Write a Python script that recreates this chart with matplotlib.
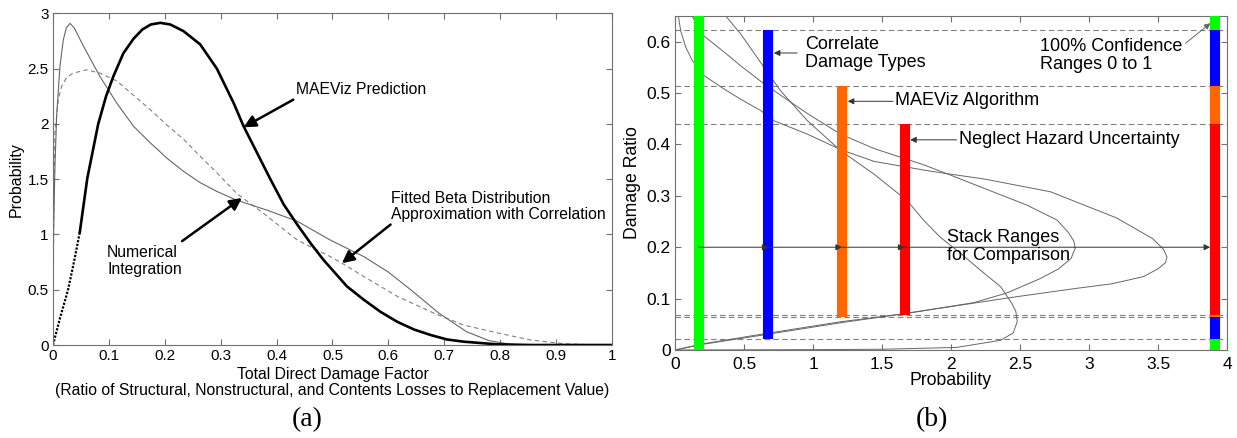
import numpy as np
import matplotlib
matplotlib.use('Agg')
import matplotlib.pyplot as plt

plt.rcParams['font.family'] = ['Liberation Sans', 'DejaVu Sans']

# ---- (a) pdfs of total direct damage factor ----
maeviz_x = [0, 0.013, 0.027, 0.038, 0.048, 0.0615, 0.081, 0.095, 0.108, 0.126, 0.144, 0.16,
            0.175, 0.192, 0.21, 0.2336, 0.2634, 0.2933, 0.3232, 0.341, 0.365, 0.389, 0.413,
            0.437, 0.461, 0.484, 0.526, 0.556, 0.586, 0.616, 0.646, 0.676, 0.705, 0.735,
            0.795, 0.855, 1.0]
maeviz_y = [0, 0.25, 0.5, 0.76, 1.02, 1.51, 2.0, 2.25, 2.43, 2.64, 2.77, 2.855,
            2.9, 2.915, 2.9, 2.84, 2.72, 2.50, 2.19, 1.98, 1.74, 1.50, 1.27,
            1.09, 0.92, 0.77, 0.53, 0.41, 0.30, 0.21, 0.14, 0.09, 0.05, 0.03,
            0.006, 0.0, 0.0]
n_rise = 4  # first points of the MAEViz curve look dotted in the original

numint_x = [0, 0.001, 0.0036, 0.0066, 0.0125, 0.0185, 0.024, 0.0305, 0.038, 0.054, 0.084,
            0.114, 0.144, 0.174, 0.204, 0.234, 0.263, 0.293, 0.329, 0.383, 0.437, 0.496,
            0.556, 0.6, 0.64, 0.69, 0.74, 0.78, 0.82, 0.85, 1.0]
numint_y = [0, 1.0, 1.62, 2.07, 2.52, 2.76, 2.87, 2.91, 2.87, 2.71, 2.43,
            2.19, 1.98, 1.83, 1.69, 1.57, 1.47, 1.39, 1.31, 1.22, 1.12, 0.95,
            0.80, 0.66, 0.5, 0.29, 0.12, 0.04, 0.005, 0.0, 0.0]

beta_x = [0, 0.0015, 0.0036, 0.0095, 0.0155, 0.0245, 0.036, 0.06, 0.084, 0.114, 0.144,
          0.174, 0.204, 0.234, 0.263, 0.293, 0.329, 0.377, 0.437, 0.496, 0.517, 0.556,
          0.616, 0.682, 0.735, 0.795, 0.855, 0.914, 0.97, 1.0]
beta_y = [0, 1.2, 1.92, 2.22, 2.34, 2.42, 2.46, 2.49, 2.46, 2.39, 2.26,
          2.13, 1.99, 1.86, 1.71, 1.56, 1.37, 1.19, 0.95, 0.80, 0.74, 0.62,
          0.44, 0.287, 0.18, 0.11, 0.045, 0.012, 0.001, 0.0]

# ---- (b) pdfs turned sideways: probability (x) against damage ratio (y) ----
fit_prob = [0, 1.0, 1.51, 2.04, 2.36, 2.45, 2.48, 2.47, 2.44, 2.36, 2.21, 2.07, 1.92, 1.80,
            1.685, 1.443, 1.20, 0.96, 0.766, 0.645, 0.476, 0.355]
fit_ratio = [0, 0.0007, 0.0015, 0.005, 0.019, 0.033, 0.055, 0.075, 0.091, 0.123, 0.156, 0.188,
             0.22, 0.253, 0.29, 0.342, 0.388, 0.446, 0.504, 0.55, 0.615, 0.654]

alg_prob = [0, 0.2, 0.68, 1.2, 1.644, 2.163, 2.405, 2.647, 2.78, 2.87, 2.90, 2.89, 2.85, 2.768,
            2.55, 2.236, 2.0, 1.806, 1.443, 1.2, 0.96, 0.645, 0.476, 0.355, 0.21, 0.1]
alg_ratio = [0, 0.012, 0.033, 0.055, 0.07, 0.092, 0.111, 0.139, 0.158, 0.178, 0.198, 0.212,
             0.229, 0.253, 0.282, 0.315, 0.34, 0.36, 0.392, 0.42, 0.46, 0.518, 0.553, 0.58,
             0.611, 0.66]

nohaz_prob = [0, 0.2, 0.68, 1.2, 1.644, 2.43, 2.91, 3.17, 3.396, 3.5, 3.555, 3.565, 3.54, 3.46,
              3.2, 2.72, 2.236, 2.0, 1.806, 1.443, 1.2, 0.96, 0.718, 0.621, 0.476, 0.355,
              0.21, 0.126, 0.078, 0.041, 0.022]
nohaz_ratio = [0, 0.011, 0.031, 0.053, 0.07, 0.102, 0.12, 0.129, 0.143, 0.158, 0.17, 0.181,
               0.196, 0.217, 0.257, 0.308, 0.333, 0.342, 0.35, 0.367, 0.39, 0.42, 0.446,
               0.466, 0.488, 0.508, 0.534, 0.563, 0.589, 0.621, 0.654]

# confidence ranges: full, correlated, MAEViz algorithm, no hazard uncertainty
range_lo = [0.0, 0.021, 0.065, 0.069]
range_hi = [1.0, 0.623, 0.513, 0.44]
range_x = [0.172, 0.677, 1.21, 1.663]
stack_x = 3.912
range_colors = ['#00ff00', '#0000ff', '#ff6600', '#ff0000']
stack_level = 0.2

spine_c = '#707070'


def matlab_box(ax, size):
    ax.tick_params(direction='in', top=True, right=True, length=4, width=0.8,
                   color=spine_c, labelsize=size, pad=3)
    for s in ax.spines.values():
        s.set_color(spine_c)
        s.set_linewidth(0.8)


fig = plt.figure(figsize=(12.37, 4.38), dpi=100)

# ----------------------------- (a) -----------------------------
ax1 = fig.add_axes([0.0428, 0.2123, 0.4519, 0.757])
ax1.plot(beta_x, beta_y, color='#808080', lw=0.8, ls=(0, (4, 3)))
ax1.plot(numint_x, numint_y, color='#666666', lw=0.8)
ax1.plot(maeviz_x[:n_rise + 1], maeviz_y[:n_rise + 1], color='black', lw=1.6, ls=(0, (1, 0.7)))
ax1.plot(maeviz_x[n_rise:], maeviz_y[n_rise:], color='black', lw=1.9)
ax1.set_xlim(0, 1)
ax1.set_ylim(0, 3)
ax1.set_xticks(np.arange(0, 1.01, 0.1))
ax1.set_yticks(np.arange(0, 3.01, 0.5))
ax1.xaxis.set_major_formatter(plt.FormatStrFormatter('%g'))
ax1.yaxis.set_major_formatter(plt.FormatStrFormatter('%g'))
matlab_box(ax1, 11)
ax1.set_xlabel('Total Direct Damage Factor\n(Ratio of Structural, Nonstructural, and Contents Losses to Replacement Value)',
               fontsize=11.3, linespacing=1.1)
ax1.xaxis.set_label_coords(0.5, -0.066)
ax1.set_ylabel('Probability', fontsize=11.5)
ax1.yaxis.set_label_coords(-0.052, 0.5)

big = dict(arrowstyle='-|>', color='black', lw=1.8, mutation_scale=18, shrinkA=0, shrinkB=0)
ax1.text(0.434, 2.31, 'MAEViz Prediction', fontsize=11.3, va='center')
ax1.annotate('', xy=(0.341, 1.97), xytext=(0.43, 2.22), arrowprops=big)
ax1.text(0.097, 0.76, 'Numerical\nIntegration', fontsize=11.3, va='center', linespacing=1.1)
ax1.annotate('', xy=(0.338, 1.33), xytext=(0.231, 0.94), arrowprops=big)
ax1.text(0.604, 1.256, 'Fitted Beta Distribution\nApproximation with Correlation',
         fontsize=11.3, va='center', linespacing=1.1)
ax1.annotate('', xy=(0.517, 0.74), xytext=(0.604, 1.09), arrowprops=big)

# ----------------------------- (b) -----------------------------
ax2 = fig.add_axes([0.5457, 0.2009, 0.4462, 0.7626])
for y in range_lo[1:] + range_hi[1:]:
    ax2.axhline(y, color='#808080', lw=0.8, ls=(0, (5, 3)), zorder=1)
for px, py in [(fit_prob, fit_ratio), (alg_prob, alg_ratio), (nohaz_prob, nohaz_ratio)]:
    ax2.plot(px, py, color='#666666', lw=0.7, zorder=2)

bar_w = 7.3
for i in range(len(range_x)):
    ax2.plot([range_x[i], range_x[i]], [range_lo[i], range_hi[i]], color=range_colors[i],
             lw=bar_w, solid_capstyle='butt', zorder=3)
    # stacked column on the right
    if i + 1 < len(range_x):
        segs = [(range_lo[i], range_lo[i + 1]), (range_hi[i + 1], range_hi[i])]
    else:
        segs = [(range_lo[i], range_hi[i])]
    for lo, hi in segs:
        ax2.plot([stack_x, stack_x], [lo, hi], color=range_colors[i], lw=bar_w,
                 solid_capstyle='butt', zorder=3)

small = dict(arrowstyle='-|>', color='#333333', lw=0.7, mutation_scale=9, shrinkA=0, shrinkB=0)
chain = range_x + [stack_x - 0.034]
for i in range(len(chain) - 1):
    ax2.annotate('', xy=(chain[i + 1], stack_level), xytext=(chain[i], stack_level),
                 arrowprops=small, zorder=4)

ax2.set_xlim(0, 4)
ax2.set_ylim(0, 0.65)
ax2.set_xticks(np.arange(0, 4.01, 0.5))
ax2.set_yticks(np.arange(0, 0.61, 0.1))
ax2.xaxis.set_major_formatter(plt.FormatStrFormatter('%g'))
ax2.yaxis.set_major_formatter(plt.FormatStrFormatter('%g'))
matlab_box(ax2, 12.5)
ax2.tick_params(axis='x', pad=5)
ax2.set_xlabel('Probability', fontsize=12.7)
ax2.xaxis.set_label_coords(0.5, -0.066)
ax2.set_ylabel('Damage Ratio', fontsize=12.7)
ax2.yaxis.set_label_coords(-0.062, 0.5)

fs = 13
ax2.text(0.94, 0.577, 'Correlate\nDamage Types', fontsize=fs, va='center', linespacing=1.05)
ax2.annotate('', xy=(0.716, 0.578), xytext=(0.885, 0.578), arrowprops=small)
ax2.text(1.593, 0.486, 'MAEViz Algorithm', fontsize=fs, va='center')
ax2.annotate('', xy=(1.252, 0.484), xytext=(1.58, 0.484), arrowprops=small)
ax2.text(2.055, 0.41, 'Neglect Hazard Uncertainty', fontsize=fs, va='center')
ax2.annotate('', xy=(1.704, 0.409), xytext=(2.04, 0.409), arrowprops=small)
ax2.text(2.647, 0.573, '100% Confidence\nRanges 0 to 1', fontsize=fs, va='center', linespacing=1.05)
ax2.annotate('', xy=(3.88, 0.636), xytext=(3.70, 0.597),
             arrowprops=dict(small, color='#666666'))
ax2.text(1.97, 0.202, 'Stack Ranges\nfor Comparison', fontsize=fs, va='center',
         linespacing=1.05, zorder=5)

fig.text(0.248, 0.041, '(a)', family='Liberation Serif', fontsize=20, ha='center', va='center')
fig.text(0.7534, 0.041, '(b)', family='Liberation Serif', fontsize=20, ha='center', va='center')

fig.savefig('out.png', dpi=100)
